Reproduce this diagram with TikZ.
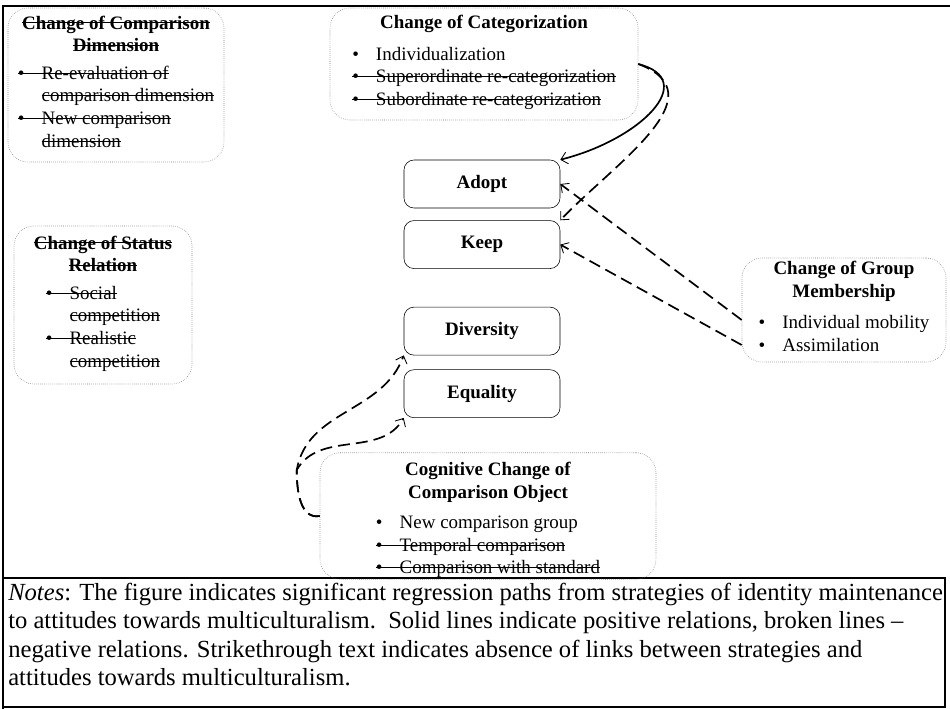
\documentclass[tikz,border=0pt]{standalone}
\usepackage{fontspec}
\setmainfont{Liberation Serif}
\usetikzlibrary{arrows.meta,positioning}
\newcommand{\strk}[1]{\sbox0{#1}\rlap{\rule[0.3em]{\wd0}{0.6pt}}\usebox0}
\newcommand{\itm}[1]{\textbullet\hspace{0.9em}#1}
\newcommand{\xitm}[1]{\strk{\textbullet\hspace{0.9em}#1}}
\newcommand{\xmore}[1]{\phantom{\textbullet\hspace{0.9em}}\strk{#1}}
\tikzset{
  strat/.style={rectangle,rounded corners=0.5cm,draw=black!55,densely dotted,align=center,inner sep=2pt,font=\fontsize{13.5}{16.2}\selectfont},
  attitude/.style={rectangle,rounded corners=0.25cm,draw,thin,minimum width=3.9cm,minimum height=1.2cm,font=\fontsize{13.5}{16.2}\selectfont\bfseries},
  poslink/.style={-{Straight Barb[length=1.6mm,width=3mm,line width=0.6pt]},line width=1.2pt},
  neglink/.style={poslink,dash pattern=on 8.5pt off 4.3pt},
  frame/.style={line width=0.9pt},
  notes/.style={anchor=north west,align=left,inner sep=0pt,font=\fontsize{17.5}{20}\selectfont}
}
\begin{document}
\begin{tikzpicture}
  \useasboundingbox (0,0) rectangle (23.75,-17.725);
  \draw[frame] (23.75,-0.15) -- (0.075,-0.15) -- (0.075,-17.725);
  \draw[frame] (0.075,-14.45) rectangle (23.625,-17.675);

  % strategies
  \node[strat,minimum width=5.4cm,minimum height=3.85cm] (dim) at (2.9,-2.125)
    {\strk{\textbf{Change of Comparison}}\\ \strk{\textbf{Dimension}}\\[7pt]
     \begin{tabular}{@{}l@{}}\xitm{Re-evaluation of}\\ \xmore{comparison dimension}\\ \xitm{New comparison}\\ \xmore{dimension}\end{tabular}};
  \node[strat,minimum width=7.7cm,minimum height=2.8cm] (cat) at (12.1,-1.6)
    {\textbf{Change of Categorization}\\[7pt]
     \begin{tabular}{@{}l@{}}\itm{Individualization}\\ \xitm{Superordinate re-categorization}\\ \xitm{Subordinate re-categorization}\end{tabular}};
  \node[strat,minimum width=4.45cm,minimum height=3.95cm] (status) at (2.575,-7.625)
    {\strk{\textbf{Change of Status}}\\ \strk{\textbf{Relation}}\\[7pt]
     \begin{tabular}{@{}l@{}}\xitm{Social}\\ \xmore{competition}\\ \xitm{Realistic}\\ \xmore{competition}\end{tabular}};
  \node[strat,minimum width=5.1cm,minimum height=2.6cm] (group) at (21.1,-7.75)
    {\textbf{Change of Group}\\ \textbf{Membership}\\[7pt]
     \begin{tabular}{@{}l@{}}\itm{Individual mobility}\\ \itm{Assimilation}\end{tabular}};
  \node[strat,minimum width=8.4cm,minimum height=3.05cm] (cog) at (12.2,-12.9)
    {\raisebox{-3pt}[\height][\depth]{\begin{tabular}{@{}c@{}}\textbf{Cognitive Change of}\\ \textbf{Comparison Object}\\[5pt]
     \begin{tabular}{@{}l@{}}\itm{New comparison group}\\ \xitm{Temporal comparison}\\ \xitm{Comparison with standard}\end{tabular}\end{tabular}}};

  % attitudes
  \node[attitude] (adopt) at (12.05,-4.6) {Adopt};
  \node[attitude,below=0.3cm of adopt] (keep) {Keep};
  \node[attitude,below=0.95cm of keep] (diversity) {Diversity};
  \node[attitude,below=0.35cm of diversity] (equality) {Equality};

  % paths
  \draw[poslink] (cat.east) .. controls +(1.55,-0.4) and +(2.0,0.5) .. (adopt.north east);
  \draw[neglink] (cat.east) .. controls +(2.05,-0.775) and +(1.35,1.425) .. (keep.north east);
  \draw[neglink] ([yshift=-0.25cm]group.west) -- (adopt.east);
  \draw[neglink] ([yshift=-0.875cm]group.west) -- (keep.east);
  \draw[neglink] (cog.west) to[out=190,in=-90] ++(-0.575,1.15) to[out=80,in=-110] (diversity.south west);
  \draw[neglink] (cog.west) to[out=190,in=-90] ++(-0.575,1.15) to[out=60,in=-120] (equality.south west);

  \node[notes] (note) at (0.2,-14.58)
    {\textit{Notes}: The figure indicates significant regression paths from strategies of identity maintenance\\
     to attitudes towards multiculturalism.\ \ Solid lines indicate positive relations, broken lines --\\
     negative relations. Strikethrough text indicates absence of links between strategies and\\
     attitudes towards multiculturalism.};
\end{tikzpicture}
\end{document}
